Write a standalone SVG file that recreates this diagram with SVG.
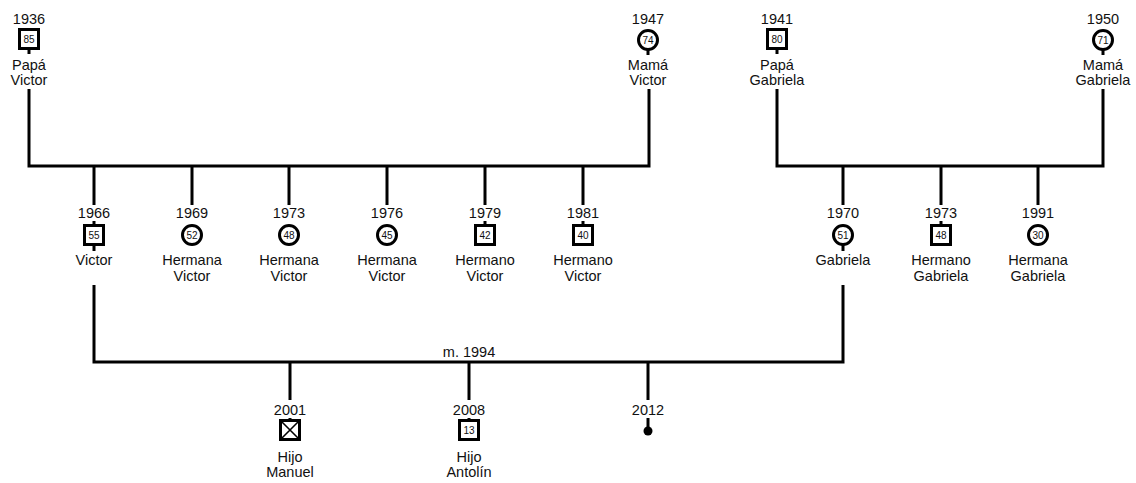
<svg xmlns="http://www.w3.org/2000/svg" width="1136" height="483" viewBox="0 0 1136 483">
<style>
text{font-family:"Liberation Sans",Arial,sans-serif;fill:#111;text-anchor:middle}
.t{font-size:14.5px}
.a{font-size:10px}
.s{fill:#fff;stroke:#000;stroke-width:3}
.l{stroke:#000;stroke-width:3;fill:none}
</style>
<rect width="1136" height="483" fill="#fff"/>
<g id="connectors" class="l">
<path d="M29 89V166H649V89"/>
<path d="M777 89V166H1103V89"/>
<path d="M94 166V205M192 166V205M289 166V205M387 166V205M485 166V205M583 166V205"/>
<path d="M843 166V205M941 166V205M1038 166V205"/>
<path d="M94 285V362H843V285"/>
<path d="M290 362V400M469 362V400M648 362V400"/>
</g>
<g id="papa_victor"><text class="t" x="29" y="24">1936</text><path class="l" d="M29 48V54"/><rect class="s" x="19.5" y="29.5" width="19" height="19"/><text class="a" x="29" y="43">85</text><text class="t" x="29" y="70">Papá</text><text class="t" x="29" y="85">Victor</text></g>
<g id="mama_victor"><text class="t" x="648" y="24">1947</text><path class="l" d="M648 49V55"/><circle class="s" cx="648" cy="40" r="9.5"/><text class="a" x="648" y="44">74</text><text class="t" x="648" y="70">Mamá</text><text class="t" x="648" y="85">Victor</text></g>
<g id="papa_gabriela"><text class="t" x="777" y="24">1941</text><path class="l" d="M777 48V54"/><rect class="s" x="767.5" y="29.5" width="19" height="19"/><text class="a" x="777" y="43">80</text><text class="t" x="777" y="70">Papá</text><text class="t" x="777" y="85">Gabriela</text></g>
<g id="mama_gabriela"><text class="t" x="1103" y="24">1950</text><path class="l" d="M1103 49V55"/><circle class="s" cx="1103" cy="40" r="9.5"/><text class="a" x="1103" y="44">71</text><text class="t" x="1103" y="70">Mamá</text><text class="t" x="1103" y="85">Gabriela</text></g>
<g id="victor"><text class="t" x="94" y="218">1966</text><path class="l" d="M94 221V227M94 243V251"/><rect class="s" x="84.5" y="225.5" width="19" height="19"/><text class="a" x="94" y="239">55</text><text class="t" x="94" y="265">Victor</text></g>
<g id="hermana_victor_1969"><text class="t" x="192" y="218">1969</text><circle class="s" cx="192" cy="235" r="9.5"/><text class="a" x="192" y="239">52</text><text class="t" x="192" y="265">Hermana</text><text class="t" x="192" y="281">Victor</text></g>
<g id="hermana_victor_1973"><text class="t" x="289" y="218">1973</text><circle class="s" cx="289" cy="235" r="9.5"/><text class="a" x="289" y="239">48</text><text class="t" x="289" y="265">Hermana</text><text class="t" x="289" y="281">Victor</text></g>
<g id="hermana_victor_1976"><text class="t" x="387" y="218">1976</text><circle class="s" cx="387" cy="235" r="9.5"/><text class="a" x="387" y="239">45</text><text class="t" x="387" y="265">Hermana</text><text class="t" x="387" y="281">Victor</text></g>
<g id="hermano_victor_1979"><text class="t" x="485" y="218">1979</text><path class="l" d="M485 221V227"/><rect class="s" x="475.5" y="225.5" width="19" height="19"/><text class="a" x="485" y="239">42</text><text class="t" x="485" y="265">Hermano</text><text class="t" x="485" y="281">Victor</text></g>
<g id="hermano_victor_1981"><text class="t" x="583" y="218">1981</text><path class="l" d="M583 221V227"/><rect class="s" x="573.5" y="225.5" width="19" height="19"/><text class="a" x="583" y="239">40</text><text class="t" x="583" y="265">Hermano</text><text class="t" x="583" y="281">Victor</text></g>
<g id="gabriela"><text class="t" x="843" y="218">1970</text><path class="l" d="M843 243V251"/><circle class="s" cx="843" cy="235" r="9.5"/><text class="a" x="843" y="239">51</text><text class="t" x="843" y="265">Gabriela</text></g>
<g id="hermano_gabriela"><text class="t" x="941" y="218">1973</text><path class="l" d="M941 221V227"/><rect class="s" x="931.5" y="225.5" width="19" height="19"/><text class="a" x="941" y="239">48</text><text class="t" x="941" y="265">Hermano</text><text class="t" x="941" y="281">Gabriela</text></g>
<g id="hermana_gabriela"><text class="t" x="1038" y="218">1991</text><circle class="s" cx="1038" cy="235" r="9.5"/><text class="a" x="1038" y="239">30</text><text class="t" x="1038" y="265">Hermana</text><text class="t" x="1038" y="281">Gabriela</text></g>
<text class="t" x="469" y="357">m. 1994</text>
<g id="hijo_manuel"><text class="t" x="290" y="415">2001</text><path class="l" d="M290 418V422"/><rect class="s" x="280.5" y="420.5" width="19" height="19"/><path d="M281 421L299 439M299 421L281 439" stroke="#000" stroke-width="1.6"/><text class="t" x="290" y="462">Hijo</text><text class="t" x="290" y="477">Manuel</text></g>
<g id="hijo_antolin"><text class="t" x="469" y="415">2008</text><path class="l" d="M469 418V422"/><rect class="s" x="459.5" y="420.5" width="19" height="19"/><text class="a" x="469" y="434">13</text><text class="t" x="469" y="462">Hijo</text><text class="t" x="469" y="477">Antolín</text></g>
<g id="embarazo_2012"><text class="t" x="648" y="415">2012</text><path class="l" d="M648 418V428"/><circle cx="648" cy="431" r="4.5" fill="#000"/></g>
</svg>
